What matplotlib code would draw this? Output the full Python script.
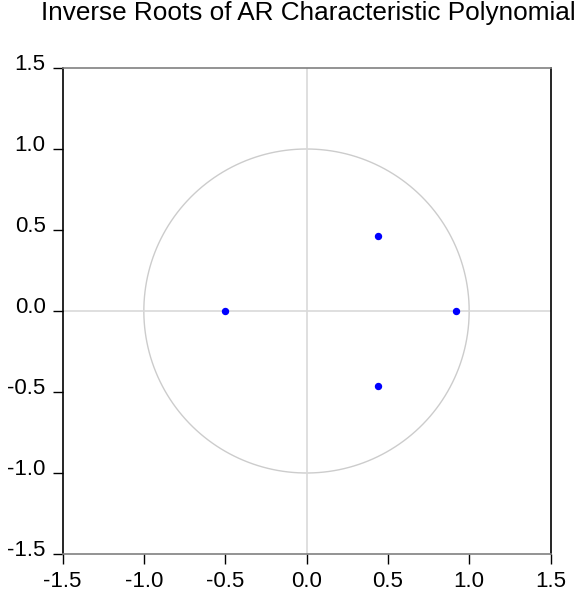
import numpy as np
import matplotlib
matplotlib.use("Agg")
import matplotlib.pyplot as plt
import matplotlib.transforms as mtransforms

plt.rcParams['font.family'] = ['Liberation Sans', 'DejaVu Sans']

# inverse roots
rootsReal = [-0.50, 0.92, 0.44, 0.44]
rootsImag = [0.0, 0.0, 0.46, -0.46]
tickValues = [-1.5, -1.0, -0.5, 0.0, 0.5, 1.0, 1.5]
tickLabels = ["-1.5", "-1.0", "-0.5", "0.0", "0.5", "1.0", "1.5"]

fig = plt.figure(figsize=(5.77, 5.96), dpi=100)
ax = fig.add_axes([62.5/577, 1 - 554/596, 488/577, 486/596])

theta = np.linspace(0, 2*np.pi, 400)
ax.plot(np.cos(theta), np.sin(theta), color='#cccccc', lw=1.0, zorder=1)
ax.axhline(0, color='#d9d9d9', lw=1.2, zorder=1)
ax.axvline(0, color='#d9d9d9', lw=1.2, zorder=1)
ax.plot(rootsReal, rootsImag, 'o', color='#0000ff', ms=4.3, zorder=3)

ax.set_xlim(-1.5, 1.5)
ax.set_ylim(-1.5, 1.5)
ax.set_xticks(tickValues)
ax.set_xticklabels(tickLabels)
ax.set_yticks(tickValues)
ax.set_yticklabels(tickLabels)
ax.tick_params(axis='both', direction='out', length=7.2, width=1.0, labelsize=16, colors='black')
ax.tick_params(axis='x', pad=5)
ax.tick_params(axis='y', pad=5)

# y labels sit a little above their ticks in the original
shift = mtransforms.ScaledTranslation(0, 4/72, fig.dpi_scale_trans)
for lbl in ax.get_yticklabels():
    lbl.set_transform(lbl.get_transform() + shift)

ax.spines['top'].set_color('#808080')
ax.spines['bottom'].set_color('#808080')
ax.spines['left'].set_color('black')
ax.spines['right'].set_color('black')
for s in ax.spines.values():
    s.set_linewidth(1.2)

fig.text(308/577, 1 - 13/596, "Inverse Roots of AR Characteristic Polynomial",
         ha='center', va='center', fontsize=18.8)

fig.savefig("out.png", dpi=100)
